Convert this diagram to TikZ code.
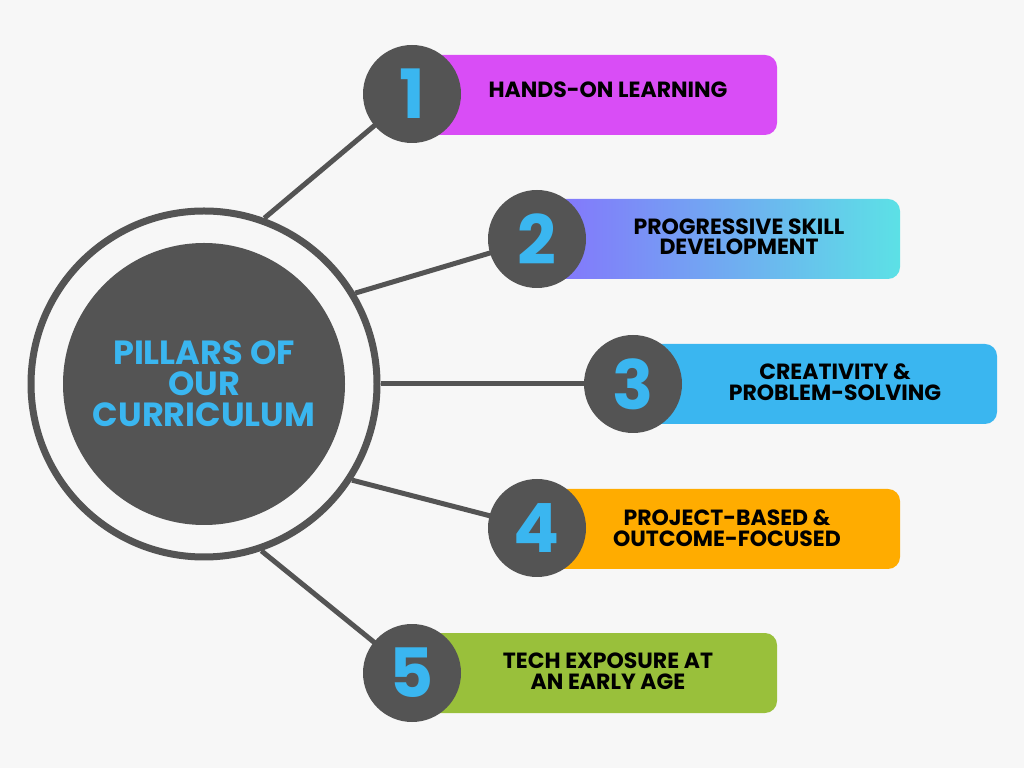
\documentclass[tikz,border=0pt]{standalone}
\usepackage{fontspec}
\setmainfont{Poppins}
\usepackage{xcolor}
\usepackage{tikz}
\usetikzlibrary{calc, positioning}

\definecolor{bgGrey}{HTML}{F7F7F7}
\definecolor{darkGrey}{HTML}{545454}
\definecolor{skyBlue}{HTML}{3AB6F0}
\definecolor{pinkBar}{HTML}{D94DF6}
\definecolor{violetBar}{HTML}{8670FD}
\definecolor{cyanBar}{HTML}{5CE1E6}
\definecolor{orangeBar}{HTML}{FFAC00}
\definecolor{greenBar}{HTML}{99C03B}

\tikzset{
  numdisc/.style={circle, fill=darkGrey, minimum size=98pt, inner sep=0pt,
    text=skyBlue, font=\fontsize{68}{68}\selectfont\bfseries},
  pillartext/.style={align=center, text=black,
    font=\fontsize{22}{20.5}\selectfont\bfseries},
  link/.style={line width=5pt, draw=darkGrey},
}

\begin{document}
\begin{tikzpicture}[x=1pt, y=1pt]

    % =================================================================
    % 1. BACKGROUND AND MAIN COORDINATES
    % =================================================================
    \fill[bgGrey] (0,0) rectangle (1024,768);
    \useasboundingbox (0,0) rectangle (1024,768);

    \coordinate (O) at (204,384);
    \coordinate (c1) at (412,674);
    \coordinate (c2) at (537,529);
    \coordinate (c3) at (633,384);
    \coordinate (c4) at (537,240);
    \coordinate (c5) at (412,95);

    % =================================================================
    % 2. RING, HUB AND CONNECTING LINES
    % =================================================================
    \node[circle, draw=darkGrey, line width=7pt, minimum size=346pt,
          inner sep=0pt] (ring) at (O) {};
    \node[circle, fill=darkGrey, minimum size=282pt, inner sep=0pt,
          text=skyBlue, align=center,
          font=\fontsize{33.5}{31}\selectfont\bfseries] (hub) at (O)
          {PILLARS OF\\OUR\\CURRICULUM};

    \draw[link] (ring.70) -- (c1);
    \draw[link] (ring.31) -- (c2);
    \draw[link] (ring.0) -- (c3);
    \draw[link] (ring.-33) -- (c4);
    \draw[link] (ring.-71) -- (c5);

    % =================================================================
    % 3. COLOURED BARS
    % =================================================================
    \fill[pinkBar, rounded corners=12pt] (412,633) rectangle (777,713);
    \shade[left color=violetBar, right color=cyanBar, rounded corners=12pt]
          (537,489) rectangle (900,569);
    \fill[skyBlue, rounded corners=12pt] (633,344) rectangle (997,424);
    \fill[orangeBar, rounded corners=12pt] (537,199) rectangle (900,279);
    \fill[greenBar, rounded corners=12pt] (412,55) rectangle (777,135);

    % =================================================================
    % 4. NUMBER DISCS
    % =================================================================
    \node[numdisc] (n1) at (c1) {1};
    \node[numdisc] (n2) at (c2) {2};
    \node[numdisc] (n3) at (c3) {3};
    \node[numdisc] (n4) at (c4) {4};
    \node[numdisc] (n5) at (c5) {5};

    % =================================================================
    % 5. PILLAR LABELS
    % =================================================================
    \node[pillartext] (t1) at (608,678) {HANDS-ON LEARNING};
    \node[pillartext] (t2) at (739,531) {PROGRESSIVE SKILL\\DEVELOPMENT};
    \node[pillartext] (t3) at (835,386) {CREATIVITY \&\\PROBLEM-SOLVING};
    \node[pillartext] (t4) at (727,240) {PROJECT-BASED \&\\OUTCOME-FOCUSED};
    \node[pillartext] (t5) at (608,97) {TECH EXPOSURE AT\\AN EARLY AGE};

\end{tikzpicture}
\end{document}
